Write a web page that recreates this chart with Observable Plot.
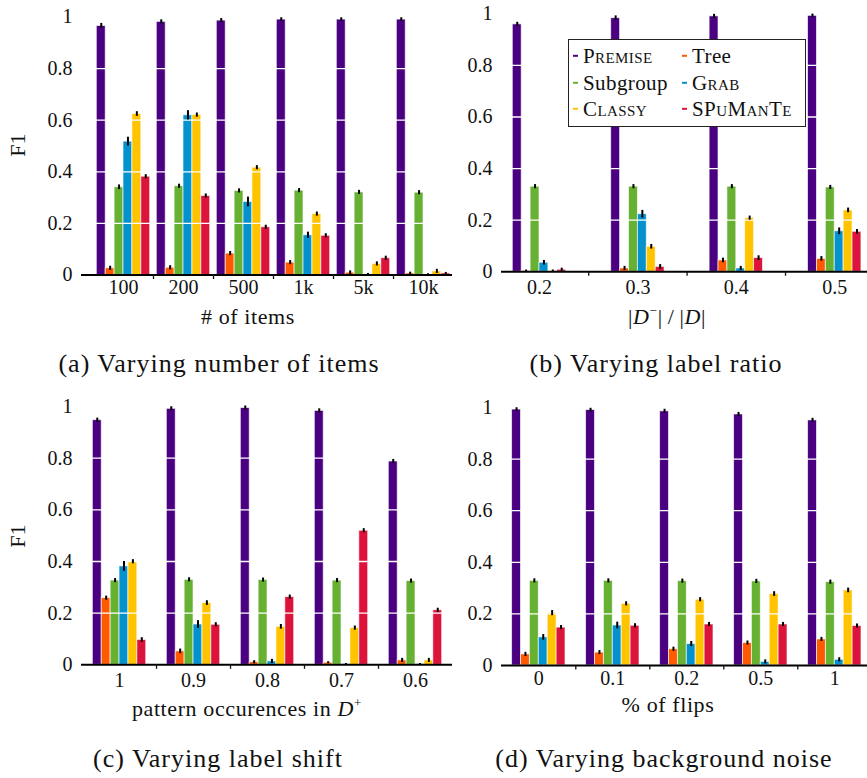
<!DOCTYPE html>
<html>
<head>
<meta charset="utf-8">
<script src="https://cdn.jsdelivr.net/npm/d3@7"></script>
<script src="https://cdn.jsdelivr.net/npm/@observablehq/plot@0.6"></script>
<style>
  body { margin: 0; background: #fff; }
  #fig { position: relative; width: 867px; height: 778px; overflow: hidden;
         font-family: "Liberation Serif", serif; color: #111; background: #fff; }
  #fig svg, #fig svg text { font-family: "Liberation Serif", serif !important; }
  .panel { position: absolute; }
  .txt { position: absolute; white-space: nowrap; transform: translate(-50%, -50%); line-height: 1; }
  .axlabel { font-size: 22px; letter-spacing: 0.6px; }
  .caption { font-size: 26px; letter-spacing: 1px; }
  .ylab { font-size: 22px; transform: translate(-50%, -50%) rotate(-90deg); }
  .sc { font-variant: small-caps; }
  #legend { position: absolute; left: 568px; top: 39px; width: 236px; height: 86px;
            border: 1.4px solid #222; background: #fff; font-size: 21px; letter-spacing: 0.4px; }
  .entry { position: absolute; white-space: nowrap; line-height: 1; transform: translateY(-50%); }
  .dash { position: absolute; width: 5px; height: 2.4px; transform: translateY(-50%); }
</style>
</head>
<body>
<div id="fig"></div>
<script>
// Methods in series order and their colours
const methods = ["Premise", "Tree", "Subgroup", "Grab", "Classy", "SPuManTe"];
const methodColors = ["#4b0082", "#ff5a00", "#66b032", "#0392ce", "#ffc300", "#dc143c"];
const smallCaps = [true, false, false, true, true, true];

// (a) number of items
const itemsLabels = ["100", "200", "500", "1k", "5k", "10k"];
const itemsF1 = [
  [0.965, 0.981, 0.986, 0.990, 0.990, 0.990],
  [0.026, 0.028, 0.083, 0.048, 0.009, 0.006],
  [0.340, 0.344, 0.326, 0.327, 0.320, 0.319],
  [0.517, 0.619, 0.283, 0.154, 0.002, 0.002],
  [0.624, 0.620, 0.416, 0.236, 0.043, 0.014],
  [0.381, 0.306, 0.185, 0.152, 0.065, 0.006]
];
const itemsErr = [
  [0.010, 0.008, 0.008, 0.007, 0.007, 0.007],
  [0.008, 0.008, 0.008, 0.008, 0.007, 0.005],
  [0.009, 0.008, 0.008, 0.008, 0.008, 0.008],
  [0.017, 0.018, 0.019, 0.012, 0.004, 0.003],
  [0.009, 0.008, 0.008, 0.008, 0.008, 0.008],
  [0.008, 0.008, 0.008, 0.008, 0.008, 0.004]
];

// (b) label ratio
const ratioLabels = ["0.2", "0.3", "0.4", "0.5"];
const ratioF1 = [
  [0.959, 0.983, 0.990, 0.992],
  [0.003, 0.013, 0.044, 0.050],
  [0.330, 0.330, 0.330, 0.327],
  [0.035, 0.223, 0.013, 0.157],
  [0.003, 0.097, 0.208, 0.238],
  [0.008, 0.019, 0.053, 0.155]
];
const ratioErr = [
  [0.008, 0.009, 0.008, 0.007],
  [0.004, 0.008, 0.009, 0.009],
  [0.008, 0.008, 0.008, 0.008],
  [0.009, 0.015, 0.008, 0.013],
  [0.004, 0.009, 0.008, 0.009],
  [0.006, 0.009, 0.009, 0.009]
];

// (c) label shift
const shiftLabels = ["1", "0.9", "0.8", "0.7", "0.6"];
const shiftF1 = [
  [0.947, 0.991, 0.994, 0.983, 0.787],
  [0.258, 0.052, 0.010, 0.008, 0.017],
  [0.326, 0.329, 0.328, 0.326, 0.324],
  [0.381, 0.156, 0.013, 0.002, 0.002],
  [0.399, 0.239, 0.147, 0.142, 0.017],
  [0.096, 0.155, 0.262, 0.519, 0.211]
];
const shiftErr = [
  [0.008, 0.008, 0.008, 0.008, 0.008],
  [0.008, 0.009, 0.006, 0.004, 0.008],
  [0.008, 0.008, 0.008, 0.008, 0.008],
  [0.019, 0.015, 0.008, 0.003, 0.003],
  [0.008, 0.009, 0.009, 0.008, 0.008],
  [0.009, 0.008, 0.008, 0.008, 0.008]
];

// (d) background noise
const noiseLabels = ["0", "0.1", "0.2", "0.5", "1"];
const noiseF1 = [
  [0.992, 0.990, 0.985, 0.973, 0.950],
  [0.043, 0.050, 0.063, 0.087, 0.101],
  [0.328, 0.328, 0.327, 0.326, 0.323],
  [0.109, 0.155, 0.083, 0.014, 0.022],
  [0.203, 0.239, 0.255, 0.277, 0.291],
  [0.147, 0.154, 0.159, 0.159, 0.153]
];
const noiseErr = [
  [0.007, 0.007, 0.008, 0.008, 0.008],
  [0.008, 0.008, 0.008, 0.008, 0.008],
  [0.008, 0.008, 0.008, 0.008, 0.008],
  [0.011, 0.013, 0.010, 0.008, 0.008],
  [0.010, 0.008, 0.008, 0.009, 0.009],
  [0.008, 0.008, 0.008, 0.008, 0.008]
];

const yTicks = [0, 0.2, 0.4, 0.6, 0.8, 1];
const gridTicks = [0.2, 0.4, 0.6, 0.8];
const BAR_PX = 8.9; // width of one bar in pixels

const fig = document.getElementById("fig");

function tidy(f1, err) {
  const rows = [];
  f1.forEach((series, m) => series.forEach((v, g) =>
    rows.push({method: methods[m], m, g, v, e: err[m][g]})));
  return rows;
}

function drawPanel({left, top, width, height, margin, domain, labels, f1, err, labelPad}) {
  const [mt, mr, mb, ml] = margin;
  const n = labels.length;
  const pxPerUnit = (width - ml - mr) / (domain[1] - domain[0]);
  const w = BAR_PX / pxPerUnit; // one bar's width in group units
  const rows = tidy(f1, err);
  const between = d3.range(n - 1).map(i => i + 0.5);

  const svg = Plot.plot({
    width, height,
    marginTop: mt, marginRight: mr, marginBottom: mb, marginLeft: ml,
    style: {fontFamily: "Liberation Serif, serif", fontSize: "20px",
            background: "transparent", color: "#111", overflow: "visible"},
    x: {domain, axis: null},
    y: {domain: [0, 1], axis: null},
    color: {domain: methods, range: methodColors},
    marks: [
      Plot.rectY(rows, {
        x1: d => d.g + (d.m - 3) * w,
        x2: d => d.g + (d.m - 2) * w,
        y1: 0, y2: "v", fill: "method",
        stroke: "white", strokeWidth: 0.9, strokeOpacity: 0.7
      }),
      Plot.ruleY(gridTicks, {stroke: "white", strokeWidth: 1.3}),
      Plot.ruleX(rows, {
        x: d => d.g + (d.m - 2.5) * w,
        y1: d => Math.max(0, d.v - d.e), y2: d => d.v + d.e,
        stroke: "black", strokeWidth: 2
      }),
      Plot.ruleY([0], {stroke: "black", strokeWidth: 2}),
      Plot.axisX(between, {tickSize: 4.5, strokeWidth: 1.3, tickFormat: () => "", label: null}),
      Plot.axisX(d3.range(n), {tickSize: 0, tickPadding: labelPad, tickFormat: i => labels[i], label: null}),
      Plot.axisY(yTicks, {tickSize: 0, tickPadding: 9, tickFormat: d => String(+d.toFixed(1)), label: null})
    ]
  });
  svg.classList.add("panel");
  svg.style.left = left + "px";
  svg.style.top = top + "px";
  fig.appendChild(svg);
}

drawPanel({left: 0, top: 0, width: 455, height: 300, margin: [16.5, 3, 25.5, 81],
           domain: [-0.7, 5.483], labels: itemsLabels, f1: itemsF1, err: itemsErr, labelPad: 5});
drawPanel({left: 452, top: 0, width: 415, height: 300, margin: [13.3, 0, 28.7, 49],
           domain: [-0.386, 3.333], labels: ratioLabels, f1: ratioF1, err: ratioErr, labelPad: 8});
drawPanel({left: 0, top: 390, width: 455, height: 300, margin: [16, 3, 25.7, 81],
           domain: [-0.514, 4.5], labels: shiftLabels, f1: shiftF1, err: shiftErr, labelPad: 8});
drawPanel({left: 452, top: 390, width: 415, height: 300, margin: [17, 0, 25, 49],
           domain: [-0.504, 4.442], labels: noiseLabels, f1: noiseF1, err: noiseErr, labelPad: 5});

// Axis titles and sub-captions
function addText(html, x, y, cls) {
  const el = document.createElement("div");
  el.className = "txt " + cls;
  el.style.left = x + "px";
  el.style.top = y + "px";
  el.innerHTML = html;
  fig.appendChild(el);
}
addText("F1", 18, 145, "ylab");
addText("F1", 18, 536, "ylab");
addText("# of items", 248, 317, "axlabel");
addText("|<i>D</i><sup style='font-size:0.6em'>−</sup>|&thinsp;/&thinsp;|<i>D</i>|", 667, 316, "axlabel");
addText("pattern occurences in <i>D</i><sup style='font-size:0.6em'>+</sup>", 247, 708, "axlabel");
addText("% of flips", 668, 705, "axlabel");
addText("(a) Varying number of items", 219, 364, "caption");
addText("(b) Varying label ratio", 656, 364, "caption");
addText("(c) Varying label shift", 218, 759, "caption");
addText("(d) Varying background noise", 664, 759, "caption");

// Legend box: two columns, three rows
const legend = document.createElement("div");
legend.id = "legend";
const rowY = [16, 42.5, 69];
const colX = [[4, 14], [113, 123]];
methods.forEach((name, k) => {
  const r = Math.floor(k / 2), c = k % 2;
  const dash = document.createElement("div");
  dash.className = "dash";
  dash.style.left = colX[c][0] + "px";
  dash.style.top = rowY[r] + "px";
  dash.style.background = methodColors[k];
  legend.appendChild(dash);
  const t = document.createElement("div");
  t.className = "entry" + (smallCaps[k] ? " sc" : "");
  t.style.left = colX[c][1] + "px";
  t.style.top = rowY[r] + "px";
  t.textContent = name;
  legend.appendChild(t);
});
fig.appendChild(legend);
</script>
</body>
</html>
